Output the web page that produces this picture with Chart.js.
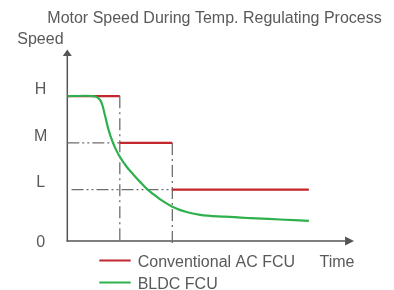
<!DOCTYPE html>
<html>
<head>
<meta charset="utf-8">
<script src="https://cdn.jsdelivr.net/npm/chart.js@4/dist/chart.umd.min.js"></script>
<style>
  html, body { margin: 0; padding: 0; background: #ffffff; }
  #wrap { width: 394px; height: 290px; }
</style>
</head>
<body>
<div id="wrap"><canvas id="c" width="394" height="290"></canvas></div>
<script>
// ---- data ----
const chartTitle = 'Motor Speed During Temp. Regulating Process';
const yAxisTitle = 'Speed';
const xAxisTitle = 'Time';
const seriesNames = ['Conventional AC FCU', 'BLDC FCU'];

// speed levels (H, M, L)
const levelH = 3, levelM = 2, levelL = 1;

// y tick labels and their positions
const tickLabels = ['0', 'L', 'M', 'H'];
const tickValues = [-0.14, 1.14, 2.14, 3.14];

// Conventional AC FCU: stepwise speed
const acStepStart = [0, 1, 2];
const acStepEnd   = [1, 2, 4.6];
const acStepLevel = [levelH, levelM, levelL];

// BLDC FCU: continuous speed
const bldcTime  = [0, 0.35, 0.50, 0.58, 0.63, 0.67, 0.72, 0.78, 0.87, 0.98, 1.13, 1.26, 1.39, 1.51, 1.64, 1.77, 1.99, 2.27, 2.53, 3.0, 3.48, 4.05, 4.6];
const bldcSpeed = [3.0, 3.01, 3.0, 2.97, 2.91, 2.80, 2.58, 2.30, 2.00, 1.74, 1.49, 1.32, 1.16, 1.02, 0.90, 0.79, 0.64, 0.52, 0.46, 0.42, 0.39, 0.36, 0.33];

// dash-dot guide lines
const guideMx = [0, 1],      guideMy = [levelM, levelM];
const guideLx = [0.08, 2],   guideLy = [levelL, levelL];
const guideV1x = [1, 1],     guideV1y = [levelH, -0.1];
const guideV2x = [2, 2],     guideV2y = [levelM, -0.15];

// axis extents
const xMin = 0, xMax = 5.46, xArrowBase = 5.29;
const yMin = -0.15, yMax = 4.0, yAxisAt = -0.1, yArrowBase = 3.86;

// ---- build ----
const acPoints = [];
acStepStart.forEach((s, i) => {
  if (i > 0) acPoints.push({ x: s, y: null });
  acPoints.push({ x: s, y: acStepLevel[i] });
  acPoints.push({ x: acStepEnd[i], y: acStepLevel[i] });
});
const bldcPoints = bldcTime.map((t, i) => ({ x: t, y: bldcSpeed[i] }));
const pts = (xs, ys) => xs.map((x, i) => ({ x, y: ys[i] }));

const RED = '#c1272d', GREEN = '#2eb04d', GUIDE = '#6e6e6e', AXIS = '#555555', TEXT = '#595959';
const FONT = '"Liberation Sans", Arial, sans-serif';
const hDash = [12, 3, 2, 3, 2, 3];
const vDash = [12, 4, 2, 4];

function guide(data, dash) {
  return { label: '_guide', data, borderColor: GUIDE, borderWidth: 1.3, borderDash: dash,
           pointRadius: 0, fill: false, order: 5 };
}

const decorPlugin = {
  id: 'decor',
  beforeDatasetsDraw(chart) {
    const { ctx, scales: { x, y } } = chart;
    const x0 = x.getPixelForValue(0), yb = y.getPixelForValue(yAxisAt);
    ctx.save();
    ctx.strokeStyle = AXIS; ctx.fillStyle = AXIS; ctx.lineWidth = 1.5;
    // y axis
    ctx.beginPath();
    ctx.moveTo(x0, yb + 0.5);
    ctx.lineTo(x0, y.getPixelForValue(yArrowBase));
    ctx.stroke();
    const yt = y.getPixelForValue(yMax), yab = y.getPixelForValue(yArrowBase);
    ctx.beginPath();
    ctx.moveTo(x0, yt); ctx.lineTo(x0 - 4.5, yab); ctx.lineTo(x0 + 4.5, yab); ctx.closePath(); ctx.fill();
    // x axis
    const xab = x.getPixelForValue(xArrowBase), xt = x.getPixelForValue(xMax);
    ctx.beginPath();
    ctx.moveTo(x0 - 0.75, yb);
    ctx.lineTo(xab, yb);
    ctx.stroke();
    ctx.beginPath();
    ctx.moveTo(xt, yb); ctx.lineTo(xab, yb - 4.5); ctx.lineTo(xab, yb + 4.5); ctx.closePath(); ctx.fill();
    ctx.restore();
  },
  afterDraw(chart) {
    const { ctx } = chart;
    ctx.save();
    ctx.font = '16px ' + FONT;
    ctx.fillStyle = TEXT;
    ctx.textBaseline = 'alphabetic';
    ctx.textAlign = 'left';
    ctx.fillText(chartTitle, 47.3, 22.7);
    ctx.fillText(yAxisTitle, 17.3, 44.3);
    ctx.fillText(xAxisTitle, 319.5, 267);
    // legend
    const legendY = [260.5, 282.5];
    const colors = [RED, GREEN];
    seriesNames.forEach((name, i) => {
      ctx.strokeStyle = colors[i]; ctx.lineWidth = 2;
      ctx.beginPath(); ctx.moveTo(99.3, legendY[i]); ctx.lineTo(130.7, legendY[i]); ctx.stroke();
      ctx.fillStyle = TEXT;
      ctx.fillText(name, 137.7, legendY[i] + 6.8);
    });
    ctx.restore();
  }
};

new Chart(document.getElementById('c'), {
  type: 'line',
  data: {
    datasets: [
      { label: seriesNames[0], data: acPoints, borderColor: RED, borderWidth: 2.2, pointRadius: 0,
        spanGaps: false, fill: false, order: 2, borderCapStyle: 'butt' },
      { label: seriesNames[1], data: bldcPoints, borderColor: GREEN, borderWidth: 2.2, pointRadius: 0,
        cubicInterpolationMode: 'monotone', fill: false, order: 1 },
      guide(pts(guideMx, guideMy), hDash),
      guide(pts(guideLx, guideLy), hDash),
      guide(pts(guideV1x, guideV1y), vDash),
      guide(pts(guideV2x, guideV2y), vDash)
    ]
  },
  options: {
    responsive: false,
    devicePixelRatio: 1,
    animation: false,
    layout: { padding: { top: 49.5, bottom: 46.7, left: 0, right: 40 } },
    plugins: { legend: { display: false }, title: { display: false }, tooltip: { enabled: false } },
    scales: {
      x: { type: 'linear', min: xMin, max: xMax, display: false },
      y: {
        type: 'linear', min: yMin, max: yMax,
        grid: { display: false, drawTicks: false },
        border: { display: false },
        afterFit(scale) { scale.width = 67.3; },
        afterBuildTicks(scale) { scale.ticks = tickValues.map(v => ({ value: v })); },
        ticks: {
          autoSkip: false,
          crossAlign: 'center',
          padding: 20,
          color: TEXT,
          font: { family: FONT, size: 16 },
          callback: (value, index) => tickLabels[index]
        }
      }
    }
  },
  plugins: [decorPlugin]
});
</script>
</body>
</html>
